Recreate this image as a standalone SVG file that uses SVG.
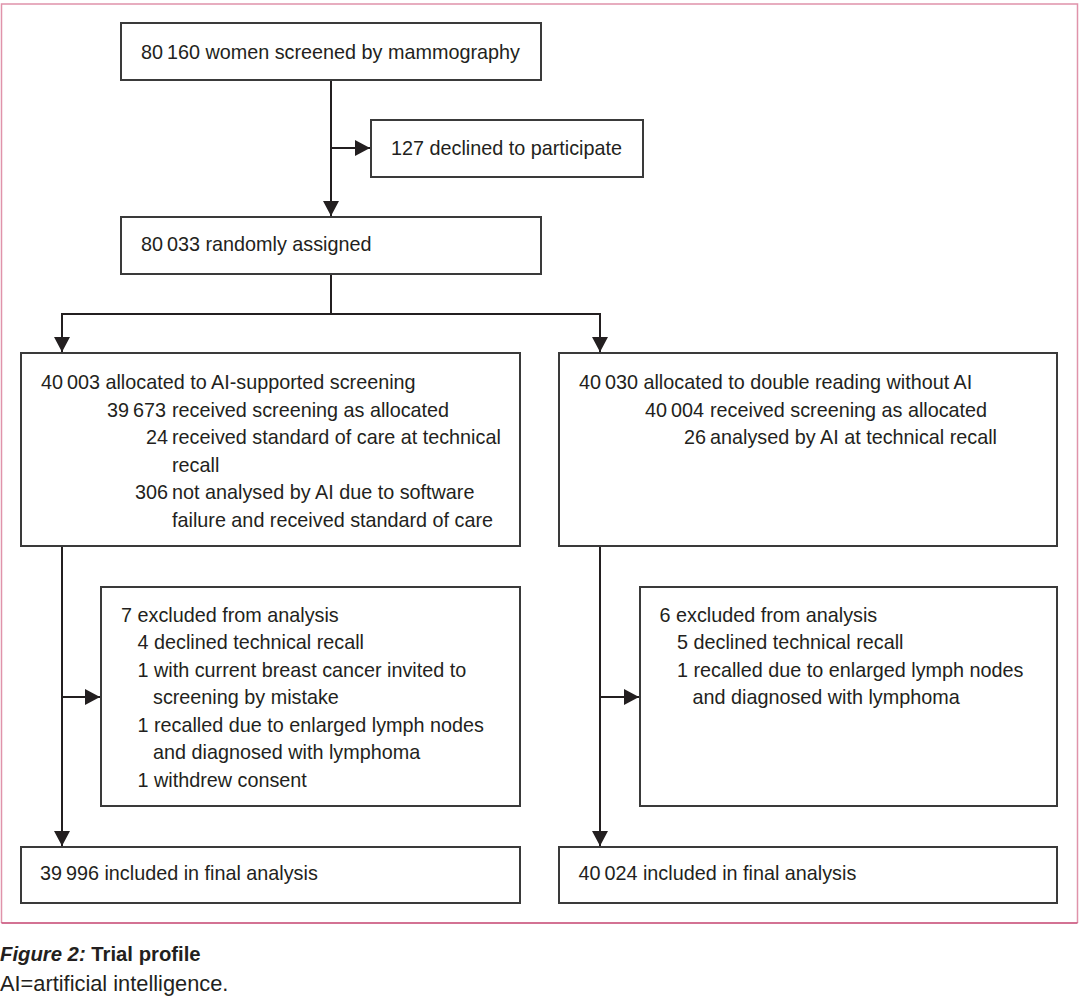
<svg xmlns="http://www.w3.org/2000/svg" width="1080" height="1000" viewBox="0 0 1080 1000">
  <style>
    .box { fill: #ffffff; stroke: #3a3a3a; stroke-width: 2; }
    .t { font-family: "Liberation Sans", Arial, sans-serif; font-size: 19.8px; fill: #231f20; }
    .num { text-anchor: end; }
    .conn { fill: none; stroke: #231f20; stroke-width: 2; }
    .cap1 { font-family: "Liberation Sans", Arial, sans-serif; font-size: 20.3px; font-weight: bold; fill: #231f20; }
    .cap2 { font-family: "Liberation Sans", Arial, sans-serif; font-size: 21.8px; fill: #231f20; }
  </style>
  <defs>
    <marker id="arrow" viewBox="0 0 15 16" markerWidth="15" markerHeight="16" refX="15" refY="8" orient="auto" markerUnits="userSpaceOnUse">
      <path d="M0,0 L15,8 L0,16 Z" fill="#231f20"/>
    </marker>
  </defs>
  <rect width="1080" height="1000" fill="#ffffff"/>
  <g id="frame" fill="none">
    <path d="M1.5,923 V4 H1077.5 V923" stroke="#e093aa" stroke-width="1.5"/>
    <path d="M1.5,923 H1077.5" stroke="#c4436f" stroke-width="1.5"/>
  </g>

  <g id="connectors">
    <path class="conn" d="M331,80 V216" marker-end="url(#arrow)"/>
    <path class="conn" d="M331,148 H370" marker-end="url(#arrow)"/>
    <path class="conn" d="M331,274 V314"/>
    <path class="conn" d="M61,314 H601"/>
    <path class="conn" d="M62,313 V352" marker-end="url(#arrow)"/>
    <path class="conn" d="M600,313 V352" marker-end="url(#arrow)"/>
    <path class="conn" d="M62,546 V846" marker-end="url(#arrow)"/>
    <path class="conn" d="M62,697 H100" marker-end="url(#arrow)"/>
    <path class="conn" d="M600,546 V846" marker-end="url(#arrow)"/>
    <path class="conn" d="M600,697 H639" marker-end="url(#arrow)"/>
  </g>

  <g id="screened">
    <rect class="box" x="121" y="23" width="420" height="57"/>
    <text class="t" x="141" y="59">80&#8201;160 women screened by mammography</text>
  </g>
  <g id="declined">
    <rect class="box" x="371" y="120" width="272" height="57"/>
    <text class="t" x="391" y="155">127 declined to participate</text>
  </g>
  <g id="randomised">
    <rect class="box" x="121" y="217" width="420" height="57"/>
    <text class="t" x="141" y="251">80&#8201;033 randomly assigned</text>
  </g>

  <g id="ai-arm">
    <rect class="box" x="21" y="353" width="499" height="193"/>
    <text class="t" x="41" y="389">40&#8201;003 allocated to AI-supported screening</text>
    <text class="t num" x="166" y="416.5">39&#8201;673</text>
    <text class="t" x="172" y="416.5">received screening as allocated</text>
    <text class="t num" x="168" y="444">24</text>
    <text class="t" x="172" y="444">received standard of care at technical</text>
    <text class="t" x="172" y="471.5">recall</text>
    <text class="t num" x="168" y="499">306</text>
    <text class="t" x="172" y="499">not analysed by AI due to software</text>
    <text class="t" x="172" y="526.5">failure and received standard of care</text>
  </g>
  <g id="control-arm">
    <rect class="box" x="559" y="353" width="498" height="193"/>
    <text class="t" x="579" y="389">40&#8201;030 allocated to double reading without AI</text>
    <text class="t num" x="704" y="416.5">40&#8201;004</text>
    <text class="t" x="710" y="416.5">received screening as allocated</text>
    <text class="t num" x="706" y="444">26</text>
    <text class="t" x="710" y="444">analysed by AI at technical recall</text>
  </g>

  <g id="ai-excluded">
    <rect class="box" x="101" y="587" width="419" height="219"/>
    <text class="t" x="121" y="621.5">7 excluded from analysis</text>
    <text class="t" x="137.5" y="649">4 declined technical recall</text>
    <text class="t" x="137.5" y="676.5">1 with current breast cancer invited to</text>
    <text class="t" x="153" y="704">screening by mistake</text>
    <text class="t" x="137.5" y="731.5">1 recalled due to enlarged lymph nodes</text>
    <text class="t" x="153" y="759">and diagnosed with lymphoma</text>
    <text class="t" x="137.5" y="786.5">1 withdrew consent</text>
  </g>
  <g id="control-excluded">
    <rect class="box" x="640" y="587" width="417" height="219"/>
    <text class="t" x="659.5" y="621.5">6 excluded from analysis</text>
    <text class="t" x="677" y="649">5 declined technical recall</text>
    <text class="t" x="677" y="676.5">1 recalled due to enlarged lymph nodes</text>
    <text class="t" x="692.5" y="704">and diagnosed with lymphoma</text>
  </g>

  <g id="ai-final">
    <rect class="box" x="21" y="847" width="499" height="56"/>
    <text class="t" x="40" y="880">39&#8201;996 included in final analysis</text>
  </g>
  <g id="control-final">
    <rect class="box" x="559" y="847" width="498" height="56"/>
    <text class="t" x="578.5" y="880">40&#8201;024 included in final analysis</text>
  </g>

  <g id="caption">
    <text class="cap1" x="0" y="961"><tspan font-style="italic">Figure 2:</tspan> Trial profile</text>
    <text class="cap2" x="0" y="991">AI=artificial intelligence.</text>
  </g>
</svg>
